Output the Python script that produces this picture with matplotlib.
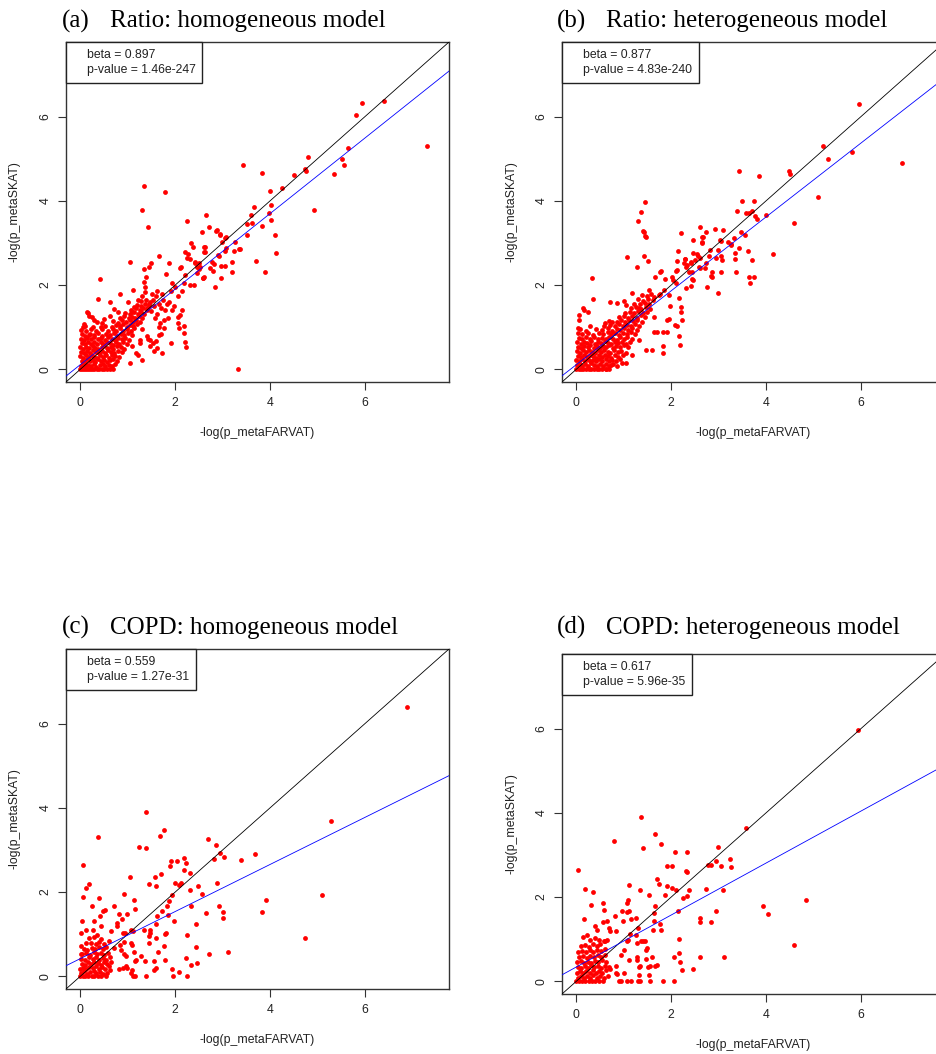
import numpy as np
import matplotlib
matplotlib.use("Agg")
import matplotlib.pyplot as plt
from matplotlib.lines import Line2D

# ---- data: (-log p_metaFARVAT, -log p_metaSKAT) ----
ratio_hom_pts = [
    (5.93, 6.33), (6.40, 6.36), (5.82, 6.03), (7.31, 5.31), (5.64, 5.26), (5.52, 5.00), (5.55, 4.84),
    (5.35, 4.63), (4.93, 3.79), (4.79, 5.05), (4.74, 4.76), (4.76, 4.70), (4.50, 4.61), (4.25, 4.31),
    (4.00, 4.24), (4.02, 3.90), (3.98, 3.72), (4.02, 3.55), (4.11, 3.18), (4.12, 2.76), (3.89, 2.30),
    (3.70, 2.57), (3.84, 3.41), (3.67, 3.85), (3.59, 3.67), (3.61, 3.47), (3.51, 3.45), (3.51, 3.18),
    (3.42, 4.86), (3.84, 4.66), (3.32, 0.00), (3.35, 2.85), (3.26, 3.03), (3.23, 2.80), (3.19, 2.32),
    (3.05, 3.11), (3.07, 2.87), (3.04, 2.82), (3.05, 2.45), (2.96, 2.16), (2.88, 3.31), (2.95, 3.19),
    (2.98, 3.03), (2.91, 2.72), (2.81, 2.50), (2.84, 1.95), (2.72, 3.39), (2.65, 3.67), (2.56, 3.27),
    (2.60, 2.91), (2.63, 2.78), (2.74, 2.41), (2.58, 2.16), (2.53, 2.44), (2.51, 2.52),
    (1.35, 4.35), (1.79, 4.20), (1.31, 3.78), (1.42, 3.37), (2.25, 3.53), (2.34, 2.99), (2.37, 2.91),
    (2.20, 2.78), (2.28, 2.73), (2.25, 2.64), (1.66, 2.69), (1.87, 2.52), (1.05, 2.55), (0.41, 2.15),
    (2.12, 2.42), (1.80, 2.26), (2.42, 2.52), (2.46, 2.44), (2.39, 2.00), (2.32, 2.00), (2.18, 2.06),
    (2.51, 2.38), (2.60, 2.20), (1.94, 2.04), (2.00, 1.96), (1.91, 1.87), (2.14, 1.86), (2.06, 1.73),
    (1.88, 1.61), (2.14, 1.41), (2.11, 1.29), (1.97, 1.50), (1.93, 1.41), (1.85, 1.21), (2.07, 1.11),
    (2.08, 0.97), (2.19, 1.03), (2.18, 0.86), (2.20, 0.65), (2.22, 0.54), (1.92, 0.63), (1.71, 0.83),
    (1.65, 0.82), (1.73, 0.38), (1.60, 0.68), (1.56, 0.44), (1.46, 0.70), (1.48, 0.55), (1.30, 0.22),
    (1.05, 0.14), (0.84, 1.78), (1.00, 1.61), (1.12, 1.88), (0.38, 1.67), (0.62, 1.59), (0.16, 1.33),
    (0.07, 1.08), (0.05, 1.01), (0.25, 1.25), (0.18, 0.82), (1.54, 1.65), (1.60, 1.73), (1.49, 2.52),
    (1.35, 2.38), (1.44, 2.44), (1.39, 2.19), (1.34, 2.08), (1.36, 1.96), (1.36, 1.83), (1.31, 1.73),
    (1.21, 1.65), (1.13, 1.47), (1.10, 1.35),
    (1.62, 1.85), (1.72, 1.80), (1.75, 1.65), (1.66, 1.55), (1.55, 1.50), (1.50, 1.38), (1.62, 1.32),
    (1.70, 1.45), (1.78, 1.40), (1.83, 1.55), (1.76, 1.18), (1.68, 1.10), (1.58, 1.22), (1.45, 1.55),
    (1.40, 1.45), (1.52, 1.78), (1.66, 1.00), (1.77, 0.97), (1.62, 0.50), (1.40, 0.80), (1.30, 0.95),
    (1.26, 0.62), (1.18, 0.40), (1.10, 0.55), (1.22, 0.33), (1.25, 0.70), (1.42, 0.72), (1.53, 0.62),
    (2.06, 1.25), (0.72, 1.43), (0.79, 1.37), (0.62, 1.27), (0.51, 1.19), (0.43, 1.01), (0.30, 1.17),
    (0.46, 1.11), (0.14, 1.35), (0.18, 1.27),
    (2.86, 3.29), (2.94, 3.21), (3.07, 3.14), (2.62, 2.91), (2.61, 2.79), (2.32, 2.62), (2.42, 2.55),
    (2.77, 2.56), (2.93, 2.70), (3.36, 2.86), (3.19, 2.56), (2.96, 2.46), (2.79, 2.34), (2.11, 2.40),
    (2.21, 2.23), (2.46, 2.28), (2.59, 2.16),
    # dense cluster near the origin
    (0.00, 0.00), (0.04, 0.00), (0.08, 0.00), (0.12, 0.00), (0.16, 0.00), (0.21, 0.00), (0.25, 0.00),
    (0.30, 0.00), (0.35, 0.00), (0.40, 0.00), (0.46, 0.00), (0.51, 0.00), (0.57, 0.00), (0.63, 0.00),
    (0.68, 0.00),
    (0.01, 0.09), (0.06, 0.12), (0.11, 0.07), (0.17, 0.11), (0.23, 0.08), (0.29, 0.13), (0.34, 0.06),
    (0.41, 0.10), (0.47, 0.12), (0.53, 0.08), (0.60, 0.11), (0.66, 0.09), (0.73, 0.12),
    (0.03, 0.21), (0.09, 0.18), (0.14, 0.24), (0.20, 0.19), (0.27, 0.22), (0.32, 0.17), (0.38, 0.24),
    (0.44, 0.20), (0.50, 0.23), (0.57, 0.18), (0.63, 0.22), (0.70, 0.25), (0.78, 0.19),
    (0.00, 0.31), (0.05, 0.28), (0.12, 0.33), (0.18, 0.29), (0.24, 0.34), (0.30, 0.30), (0.36, 0.27),
    (0.42, 0.33), (0.49, 0.30), (0.55, 0.35), (0.61, 0.28), (0.67, 0.34), (0.74, 0.31), (0.82, 0.29),
    (0.02, 0.42), (0.08, 0.39), (0.15, 0.44), (0.21, 0.40), (0.27, 0.45), (0.34, 0.41), (0.40, 0.38),
    (0.46, 0.44), (0.52, 0.40), (0.58, 0.46), (0.65, 0.42), (0.71, 0.39), (0.79, 0.44), (0.87, 0.41),
    (0.00, 0.52), (0.06, 0.49), (0.13, 0.54), (0.19, 0.50), (0.26, 0.55), (0.32, 0.51), (0.38, 0.48),
    (0.45, 0.53), (0.51, 0.57), (0.57, 0.50), (0.64, 0.54), (0.70, 0.49), (0.77, 0.55), (0.85, 0.52),
    (0.93, 0.48),
    (0.03, 0.62), (0.10, 0.60), (0.16, 0.65), (0.23, 0.61), (0.29, 0.66), (0.36, 0.60), (0.43, 0.64),
    (0.49, 0.61), (0.56, 0.66), (0.62, 0.62), (0.69, 0.59), (0.75, 0.65), (0.82, 0.61), (0.90, 0.64),
    (0.98, 0.60),
    (0.01, 0.73), (0.08, 0.70), (0.15, 0.75), (0.22, 0.72), (0.30, 0.76), (0.37, 0.71), (0.44, 0.74),
    (0.52, 0.70), (0.59, 0.76), (0.66, 0.72), (0.73, 0.69), (0.80, 0.75), (0.87, 0.71), (0.95, 0.74),
    (1.03, 0.70),
    (0.04, 0.83), (0.11, 0.80), (0.20, 0.85), (0.28, 0.81), (0.37, 0.86), (0.46, 0.80), (0.55, 0.84),
    (0.63, 0.82), (0.71, 0.87), (0.78, 0.80), (0.86, 0.84), (0.93, 0.81), (1.01, 0.86), (1.09, 0.82),
    (0.02, 0.94), (0.12, 0.91), (0.23, 0.96), (0.33, 0.92), (0.45, 0.95), (0.58, 0.90), (0.68, 0.96),
    (0.76, 0.92), (0.84, 0.97), (0.91, 0.91), (0.99, 0.95), (1.06, 0.92), (1.14, 0.97),
    (0.10, 1.03), (0.26, 1.00), (0.52, 1.04), (0.66, 1.01), (0.75, 1.06), (0.83, 1.02), (0.91, 1.07),
    (0.98, 1.01), (1.05, 1.05), (1.12, 1.02), (1.19, 1.07),
    (0.35, 1.12), (0.70, 1.14), (0.80, 1.11), (0.88, 1.16), (0.96, 1.12), (1.04, 1.17), (1.11, 1.13),
    (1.18, 1.18), (1.25, 1.12),
    (0.84, 1.22), (0.93, 1.26), (1.02, 1.21), (1.09, 1.25), (1.16, 1.22), (1.23, 1.27), (1.30, 1.21),
    (0.95, 1.33), (1.05, 1.31), (1.14, 1.36), (1.21, 1.32), (1.28, 1.37), (1.35, 1.31),
    (1.08, 1.42), (1.18, 1.45), (1.26, 1.41), (1.33, 1.46), (1.40, 1.42),
    (1.20, 1.53), (1.29, 1.50), (1.37, 1.55), (1.45, 1.51),
    (1.27, 1.62), (1.38, 1.65), (1.47, 1.60),
]

ratio_het_pts = [
    (5.96, 6.31), (5.20, 5.30), (5.31, 5.00), (5.82, 5.15), (6.87, 4.89), (5.10, 4.09), (4.58, 3.48),
    (4.49, 4.71), (4.51, 4.64), (4.14, 2.74), (3.99, 3.67), (3.85, 4.60), (3.43, 4.72), (3.50, 4.00),
    (3.75, 4.00), (3.71, 3.77), (3.76, 3.63), (3.81, 3.58), (3.57, 3.71), (3.63, 3.71), (3.39, 3.77),
    (3.48, 3.25), (3.56, 3.18), (3.32, 3.11), (3.34, 2.76), (3.34, 2.62), (3.43, 2.87), (3.62, 2.81),
    (3.70, 2.60), (3.64, 2.19), (3.75, 2.20), (3.66, 2.06), (3.37, 2.32), (3.05, 2.30), (2.98, 1.82),
    (2.76, 1.96), (3.10, 3.31), (2.93, 3.33), (3.03, 3.07), (3.19, 3.03), (3.27, 2.95), (2.98, 2.83),
    (3.05, 2.68), (3.07, 2.60), (2.95, 2.65), (2.82, 2.83), (2.86, 2.30), (2.85, 2.22), (2.73, 2.52),
    (2.60, 3.37), (2.73, 3.25), (2.66, 3.13), (2.45, 3.06), (2.64, 3.01), (2.57, 2.69), (2.47, 2.76),
    (2.51, 2.60), (2.59, 2.44), (2.42, 2.52), (2.31, 2.44), (2.38, 2.32), (2.45, 2.12), (2.42, 1.99),
    (2.31, 1.94), (2.20, 3.23), (2.15, 2.82), (2.29, 2.62), (2.28, 2.53), (2.13, 2.36), (2.01, 2.20),
    (2.03, 2.12), (2.10, 2.04), (2.17, 1.69), (2.21, 1.49), (2.21, 1.35), (2.23, 1.17), (2.08, 1.05),
    (2.16, 0.78), (2.18, 0.59), (1.96, 1.19), (1.98, 1.50), (1.82, 0.89), (1.92, 0.89), (1.82, 0.55),
    (1.83, 0.38), (1.45, 3.98), (1.36, 3.74), (1.31, 3.51), (1.41, 3.29), (1.45, 3.17), (1.43, 2.68),
    (1.52, 2.57), (1.08, 2.66), (1.29, 2.44), (0.33, 2.16), (0.35, 1.67), (0.71, 1.61), (1.78, 2.34),
    (1.67, 2.19), (1.87, 2.14), (1.76, 1.78), (1.60, 0.46), (1.46, 0.46), (0.97, 0.14), (1.05, 0.14),
    (0.63, 0.02), (0.05, 1.29), (0.06, 1.17), (0.15, 1.45), (0.25, 1.37), (0.04, 0.97),
    (0.16, 1.41), (0.61, 1.11), (0.76, 1.13), (0.85, 1.58), (1.00, 1.63), (1.18, 1.82), (1.04, 1.53),
    (1.32, 1.45), (1.53, 1.88), (1.64, 1.71), (1.74, 1.77), (1.85, 1.88), (1.96, 1.77), (1.92, 1.17),
    (1.64, 0.89), (1.71, 0.89), (1.18, 0.34), (0.74, 0.10), (1.32, 0.70), (2.13, 1.03), (1.64, 1.25),
    (1.43, 3.27), (1.46, 3.15), (2.68, 3.14), (2.65, 3.02), (3.04, 3.05), (3.26, 2.97), (2.54, 2.74),
    (2.80, 2.68), (2.30, 2.61), (2.42, 2.56), (2.13, 2.57), (2.33, 2.48), (2.61, 2.65), (1.77, 2.32),
    (2.10, 2.34), (2.61, 2.41), (2.72, 2.41), (2.43, 2.30), (2.86, 2.20), (2.44, 2.14),
    # dense cluster near the origin
    (0.00, 0.00), (0.05, 0.00), (0.10, 0.00), (0.15, 0.00), (0.20, 0.00), (0.26, 0.00), (0.31, 0.00),
    (0.37, 0.00), (0.43, 0.00), (0.49, 0.00), (0.55, 0.00), (0.62, 0.00), (0.70, 0.00),
    (0.02, 0.10), (0.08, 0.13), (0.13, 0.08), (0.19, 0.12), (0.25, 0.09), (0.31, 0.14), (0.37, 0.10),
    (0.44, 0.07), (0.50, 0.12), (0.56, 0.09), (0.63, 0.13), (0.70, 0.08), (0.78, 0.12), (0.86, 0.09),
    (0.00, 0.22), (0.06, 0.19), (0.12, 0.24), (0.18, 0.20), (0.24, 0.25), (0.30, 0.19), (0.36, 0.23),
    (0.42, 0.20), (0.48, 0.25), (0.55, 0.21), (0.62, 0.24), (0.69, 0.19), (0.76, 0.23), (0.84, 0.20),
    (0.93, 0.24),
    (0.03, 0.32), (0.09, 0.29), (0.16, 0.34), (0.22, 0.30), (0.28, 0.35), (0.35, 0.31), (0.41, 0.28),
    (0.47, 0.34), (0.54, 0.30), (0.60, 0.35), (0.67, 0.31), (0.74, 0.28), (0.81, 0.34), (0.89, 0.30),
    (0.98, 0.33),
    (0.01, 0.43), (0.07, 0.40), (0.14, 0.45), (0.20, 0.41), (0.27, 0.46), (0.33, 0.42), (0.40, 0.39),
    (0.46, 0.45), (0.53, 0.41), (0.59, 0.46), (0.66, 0.42), (0.72, 0.39), (0.80, 0.45), (0.87, 0.41),
    (0.95, 0.44), (1.04, 0.40),
    (0.04, 0.54), (0.11, 0.51), (0.17, 0.56), (0.24, 0.52), (0.30, 0.57), (0.37, 0.51), (0.44, 0.55),
    (0.50, 0.50), (0.57, 0.56), (0.63, 0.52), (0.70, 0.57), (0.77, 0.51), (0.84, 0.55), (0.92, 0.52),
    (1.00, 0.57), (1.10, 0.53),
    (0.02, 0.64), (0.09, 0.61), (0.16, 0.66), (0.23, 0.62), (0.31, 0.67), (0.39, 0.61), (0.46, 0.65),
    (0.53, 0.62), (0.60, 0.67), (0.67, 0.63), (0.74, 0.60), (0.81, 0.66), (0.88, 0.62), (0.96, 0.65),
    (1.04, 0.61), (1.13, 0.66),
    (0.05, 0.75), (0.13, 0.72), (0.21, 0.77), (0.29, 0.73), (0.38, 0.76), (0.46, 0.71), (0.54, 0.75),
    (0.62, 0.72), (0.70, 0.77), (0.77, 0.73), (0.85, 0.70), (0.92, 0.76), (1.00, 0.72), (1.08, 0.76),
    (1.17, 0.73),
    (0.03, 0.86), (0.12, 0.83), (0.24, 0.87), (0.36, 0.82), (0.47, 0.86), (0.57, 0.84), (0.66, 0.88),
    (0.74, 0.83), (0.82, 0.87), (0.90, 0.82), (0.98, 0.86), (1.06, 0.83), (1.15, 0.88), (1.24, 0.84),
    (0.08, 0.95), (0.20, 0.92), (0.42, 0.96), (0.55, 0.93), (0.66, 0.97), (0.76, 0.92), (0.85, 0.96),
    (0.93, 0.93), (1.01, 0.98), (1.09, 0.94), (1.18, 0.97), (1.27, 0.93),
    (0.30, 1.04), (0.58, 1.02), (0.72, 1.06), (0.82, 1.03), (0.91, 1.07), (0.99, 1.02), (1.07, 1.06),
    (1.15, 1.03), (1.24, 1.08), (1.33, 1.04),
    (0.68, 1.14), (0.86, 1.12), (0.95, 1.17), (1.03, 1.13), (1.12, 1.18), (1.20, 1.14), (1.29, 1.17),
    (1.38, 1.13),
    (0.90, 1.24), (1.00, 1.27), (1.09, 1.22), (1.18, 1.26), (1.27, 1.23), (1.36, 1.28), (1.45, 1.24),
    (1.02, 1.34), (1.13, 1.37), (1.22, 1.33), (1.31, 1.38), (1.40, 1.34), (1.50, 1.36),
    (1.15, 1.45), (1.25, 1.48), (1.36, 1.44), (1.46, 1.47), (1.55, 1.43),
    (1.22, 1.56), (1.34, 1.54), (1.44, 1.58), (1.54, 1.55),
    (1.30, 1.66), (1.41, 1.63), (1.52, 1.68), (1.62, 1.64),
    (1.38, 1.76), (1.50, 1.74), (1.58, 1.80),
]

copd_hom_pts = [
    (6.88, 6.40), (5.28, 3.69), (5.10, 1.92), (4.74, 0.90), (3.92, 1.81), (3.82, 1.52), (3.69, 2.90),
    (3.38, 2.76), (3.11, 0.57), (3.03, 2.83), (2.95, 2.92), (2.87, 3.11), (2.82, 2.79), (2.70, 3.25),
    (2.88, 2.22), (2.93, 1.66), (3.00, 1.52), (3.00, 1.38), (2.72, 0.54), (2.66, 1.50), (2.57, 1.96),
    (2.49, 2.15), (2.44, 0.70), (2.45, 0.32), (2.43, 1.24), (2.34, 1.68), (2.32, 2.46), (2.32, 2.06),
    (2.33, 0.26), (2.24, 0.99), (2.22, 0.43), (2.25, 0.00), (2.18, 2.81), (2.22, 2.69), (2.18, 2.53),
    (2.12, 2.22), (2.08, 2.18), (2.00, 2.22), (2.03, 2.73), (1.91, 2.73), (1.90, 2.61), (1.93, 1.92),
    (1.87, 1.78), (1.83, 1.66), (1.97, 1.32), (1.93, 0.17), (1.96, 0.00), (2.09, 0.10), (1.77, 3.48),
    (1.68, 3.32), (1.70, 2.44), (1.58, 2.36), (1.60, 2.15), (1.72, 1.54), (1.79, 1.01), (1.77, 0.73),
    (1.79, 0.40), (1.84, 1.46), (1.61, 1.44), (1.59, 0.91), (1.64, 0.57), (1.59, 0.21), (1.56, 0.16),
    (1.56, 0.36), (1.38, 3.90), (1.39, 3.04), (1.23, 3.07), (1.44, 2.20), (1.47, 1.03), (1.44, 0.95),
    (1.45, 0.79), (1.37, 0.36), (1.38, 0.00), (1.35, 1.11), (1.04, 2.37), (1.14, 1.81), (1.16, 1.61),
    (1.08, 1.11), (1.12, 1.07), (1.06, 0.79), (1.10, 0.75), (1.14, 0.59), (1.15, 0.36), (1.18, 0.40),
    (1.09, 0.16), (1.12, 0.00), (1.16, 0.00), (1.28, 0.49), (0.92, 1.96), (0.98, 1.47), (0.82, 1.47),
    (0.89, 1.35), (0.95, 1.03), (0.91, 1.03), (0.92, 0.81), (0.96, 0.49), (0.91, 0.20), (0.81, 0.17),
    (0.98, 0.20), (0.86, 0.63), (0.78, 1.27), (0.77, 1.19), (0.71, 1.66), (0.38, 3.31), (0.39, 1.87),
    (0.06, 2.64), (0.05, 1.88), (0.12, 2.10), (0.19, 2.19), (0.25, 1.66), (0.03, 1.31), (0.02, 1.03),
    (0.01, 0.71), (0.02, 0.54),
    (0.13, 1.11), (0.27, 1.11), (0.30, 1.31), (0.41, 1.43), (0.44, 1.19), (0.48, 1.55), (0.53, 1.58),
    (0.65, 1.07), (0.72, 0.67), (0.83, 0.75), (0.93, 0.52), (0.97, 0.25), (1.07, 0.08), (1.60, 1.25),
    (1.81, 1.03), (1.46, 1.11),
    # cluster near the origin
    (0.00, 0.00), (0.05, 0.00), (0.11, 0.00), (0.17, 0.00), (0.24, 0.00), (0.30, 0.00), (0.37, 0.00),
    (0.44, 0.00), (0.55, 0.00),
    (0.02, 0.08), (0.08, 0.12), (0.14, 0.06), (0.21, 0.10), (0.28, 0.13), (0.34, 0.07), (0.41, 0.11),
    (0.48, 0.05), (0.57, 0.09), (0.63, 0.14),
    (0.00, 0.17), (0.06, 0.21), (0.12, 0.18), (0.19, 0.23), (0.26, 0.19), (0.33, 0.24), (0.39, 0.17),
    (0.46, 0.22), (0.52, 0.18), (0.60, 0.24),
    (0.03, 0.30), (0.09, 0.28), (0.16, 0.33), (0.23, 0.29), (0.30, 0.35), (0.37, 0.31), (0.43, 0.28),
    (0.50, 0.34), (0.56, 0.30), (0.65, 0.33),
    (0.01, 0.42), (0.10, 0.40), (0.18, 0.45), (0.27, 0.41), (0.34, 0.46), (0.40, 0.40), (0.47, 0.44),
    (0.54, 0.39), (0.62, 0.45),
    (0.04, 0.53), (0.13, 0.55), (0.21, 0.50), (0.29, 0.57), (0.36, 0.52), (0.44, 0.56), (0.51, 0.51),
    (0.58, 0.55),
    (0.08, 0.66), (0.15, 0.63), (0.24, 0.68), (0.31, 0.64), (0.39, 0.69), (0.47, 0.65), (0.55, 0.70),
    (0.12, 0.78), (0.22, 0.80), (0.33, 0.76), (0.40, 0.82), (0.50, 0.77), (0.60, 0.84),
    (0.18, 0.90), (0.30, 0.93), (0.43, 0.88), (0.36, 0.99),
]

copd_het_pts = [
    (5.93, 5.96), (3.58, 3.65), (4.84, 1.92), (3.93, 1.80), (4.03, 1.59), (4.59, 0.87), (3.12, 0.57),
    (2.99, 3.18), (3.24, 2.90), (3.27, 2.72), (3.06, 2.73), (2.95, 2.85), (2.83, 2.76), (2.77, 2.75),
    (3.09, 2.16), (2.73, 2.19), (2.94, 1.66), (2.83, 1.40), (2.61, 0.57), (2.60, 1.51), (2.60, 1.40),
    (2.46, 0.29), (2.33, 3.07), (2.08, 3.07), (2.31, 2.61), (2.33, 2.59), (2.37, 2.16), (2.33, 2.02),
    (2.26, 1.98), (2.15, 1.66), (2.17, 1.01), (2.16, 0.67), (2.22, 0.28), (2.05, 0.59), (2.05, 0.00),
    (1.83, 0.00), (1.92, 2.73), (2.02, 2.73), (2.01, 2.21), (1.91, 2.26), (1.87, 2.06), (2.11, 2.18),
    (1.78, 3.26), (1.66, 3.49), (1.37, 3.90), (1.40, 3.17), (0.79, 3.34), (1.71, 2.42), (1.75, 2.31),
    (1.64, 1.62), (1.63, 1.44), (1.77, 1.35), (1.78, 1.23), (1.61, 1.23), (1.53, 2.04), (1.34, 2.16),
    (1.12, 2.28), (1.09, 1.92), (1.12, 1.66), (1.07, 1.64), (1.25, 1.51), (0.99, 1.43), (1.31, 1.27),
    (1.71, 0.40), (1.67, 0.36), (1.59, 0.57), (1.55, 0.36), (1.55, 0.00), (1.53, 0.16), (1.46, 0.53),
    (1.41, 0.95), (1.36, 0.95), (1.45, 0.95), (1.50, 0.79), (1.48, 0.75), (1.29, 0.91), (1.34, 0.36),
    (1.32, 0.16), (1.31, 0.00), (1.29, 0.57), (1.27, 0.50), (1.11, 0.50), (1.14, 1.13), (1.10, 0.99),
    (1.08, 0.00), (0.95, 0.00), (1.00, 0.20), (0.85, 0.17), (0.84, 0.36), (0.71, 0.29), (0.81, 1.55),
    (0.69, 1.27), (0.72, 1.20), (0.65, 0.99), (0.61, 0.95), (0.35, 2.12), (0.31, 1.82), (0.19, 2.19),
    (0.17, 1.48), (0.04, 2.64), (0.57, 1.86), (0.59, 1.70), (0.57, 1.41), (0.64, 1.44), (0.44, 1.23),
    (0.40, 1.31), (0.97, 1.68), (1.06, 1.86), (1.15, 1.47), (1.26, 1.11), (1.65, 1.78), (1.35, 0.00),
    (1.15, 0.00), (0.90, 0.00), (0.83, 0.20), (1.52, 0.33), (1.33, 0.33), (0.94, 0.63), (1.00, 0.75),
    (1.08, 0.95), (0.83, 1.19), (2.18, 0.45),
    # cluster near the origin
    (0.00, 0.00), (0.06, 0.00), (0.13, 0.00), (0.19, 0.00), (0.26, 0.00), (0.33, 0.00), (0.40, 0.00),
    (0.47, 0.00), (0.56, 0.00),
    (0.03, 0.09), (0.10, 0.13), (0.17, 0.07), (0.23, 0.12), (0.30, 0.08), (0.36, 0.14), (0.43, 0.09),
    (0.51, 0.12), (0.59, 0.07), (0.66, 0.13),
    (0.01, 0.20), (0.08, 0.24), (0.15, 0.19), (0.21, 0.25), (0.28, 0.21), (0.35, 0.26), (0.41, 0.19),
    (0.48, 0.24), (0.55, 0.20), (0.62, 0.26),
    (0.04, 0.33), (0.11, 0.31), (0.18, 0.36), (0.25, 0.32), (0.32, 0.38), (0.38, 0.33), (0.45, 0.37),
    (0.52, 0.31), (0.60, 0.36), (0.70, 0.34),
    (0.02, 0.45), (0.09, 0.48), (0.17, 0.43), (0.24, 0.47), (0.31, 0.44), (0.39, 0.49), (0.46, 0.45),
    (0.54, 0.50), (0.63, 0.46),
    (0.06, 0.58), (0.14, 0.60), (0.22, 0.56), (0.30, 0.61), (0.37, 0.57), (0.45, 0.62), (0.53, 0.58),
    (0.61, 0.63),
    (0.04, 0.70), (0.12, 0.72), (0.20, 0.69), (0.28, 0.74), (0.36, 0.70), (0.44, 0.75), (0.52, 0.71),
    (0.60, 0.76),
    (0.10, 0.84), (0.19, 0.86), (0.27, 0.82), (0.35, 0.88), (0.43, 0.84), (0.51, 0.89), (0.58, 0.95),
    (0.15, 1.05), (0.22, 1.10), (0.30, 0.98), (0.40, 1.02), (0.48, 0.97),
]

panel_tags = ["(a)", "(b)", "(c)", "(d)"]
panel_titles = ["Ratio: homogeneous model", "Ratio: heterogeneous model",
                "COPD: homogeneous model", "COPD: heterogeneous model"]
betas = [0.897, 0.877, 0.559, 0.617]
intercepts = [0.11, 0.11, 0.42, 0.34]
pvalues = ["1.46e-247", "4.83e-240", "1.27e-31", "5.96e-35"]
x_ticks = [0, 2, 4, 6]
y_ticks = [0, 2, 4, 6]

# ---- layout (pixels in a 937 x 1054 canvas) ----
W, H = 937, 1054
# left, top, right, bottom of each plot box
boxes = [(66, 42, 449, 382), (562, 42, 945, 382), (66, 649, 449, 989), (562, 654, 945, 994)]
title_pos = [(62, 110, 27.5), (557, 606, 27.5), (62, 110, 634), (557, 606, 634)]
LIM = (-0.30, 7.77)

SANS = ["Liberation Sans", "DejaVu Sans"]
SERIF = ["Liberation Serif", "DejaVu Serif"]
TXT = "#222222"

fig = plt.figure(figsize=(W / 100, H / 100), dpi=100)

all_pts = [ratio_hom_pts, ratio_het_pts, copd_hom_pts, copd_het_pts]

for i, pts in enumerate(all_pts):
    l, t, r, b = boxes[i]
    ax = fig.add_axes([l / W, 1 - b / H, (r - l) / W, (b - t) / H])
    xy = np.array(pts)
    ax.scatter(xy[:, 0], xy[:, 1], s=12, c="#ff0000", linewidths=0, zorder=2)
    ax.axline((0, 0), slope=1, color="black", lw=0.6, zorder=3)
    ax.axline((0, intercepts[i]), slope=betas[i], color="#0000ff", lw=0.6, zorder=3)

    ax.set_xlim(LIM)
    ax.set_ylim(LIM)
    ax.set_xticks(x_ticks)
    ax.set_yticks(y_ticks)
    ax.set_xticklabels([str(v) for v in x_ticks], family=SANS, color=TXT)
    ax.set_yticklabels([str(v) for v in y_ticks], family=SANS, color=TXT,
                       rotation=90, va="center")
    ax.tick_params(direction="out", length=5.5, width=0.8, color="#333333",
                   labelsize=8.8)
    ax.tick_params(axis="x", pad=5)
    ax.tick_params(axis="y", pad=5)
    for sp in ax.spines.values():
        sp.set_color("#333333")
        sp.set_linewidth(1.0)

    ax.set_xlabel("-log(p_metaFARVAT)", family=SANS, fontsize=8.8, color=TXT)
    ax.xaxis.set_label_coords(0.5, -51 / (b - t))
    ax.xaxis.label.set_va("center")
    ax.set_ylabel("-log(p_metaSKAT)", family=SANS, fontsize=8.8, color=TXT)
    ax.yaxis.set_label_coords(-51 / (r - l), 0.5)
    ax.yaxis.label.set_va("center")

    handles = [Line2D([], [], linestyle="none"), Line2D([], [], linestyle="none")]
    labels = [f"beta = {betas[i]:.3f}", f"p-value = {pvalues[i]}"]
    leg = ax.legend(handles, labels, loc="upper left", borderaxespad=0,
                    prop={"family": SANS, "size": 8.8}, labelcolor=TXT,
                    handlelength=0.7, handletextpad=0.45, borderpad=0.55,
                    labelspacing=0.25, fancybox=False, framealpha=1)
    leg.get_frame().set_edgecolor("#222222")
    leg.get_frame().set_linewidth(1.0)

    tx, sx, ty = title_pos[i]
    fig.text(tx / W, 1 - ty / H, panel_tags[i], family=SERIF, fontsize=18,
             va="baseline", ha="left", color="black")
    fig.text(sx / W, 1 - ty / H, panel_titles[i], family=SERIF, fontsize=18,
             va="baseline", ha="left", color="black")

fig.savefig("out.png", dpi=100)
